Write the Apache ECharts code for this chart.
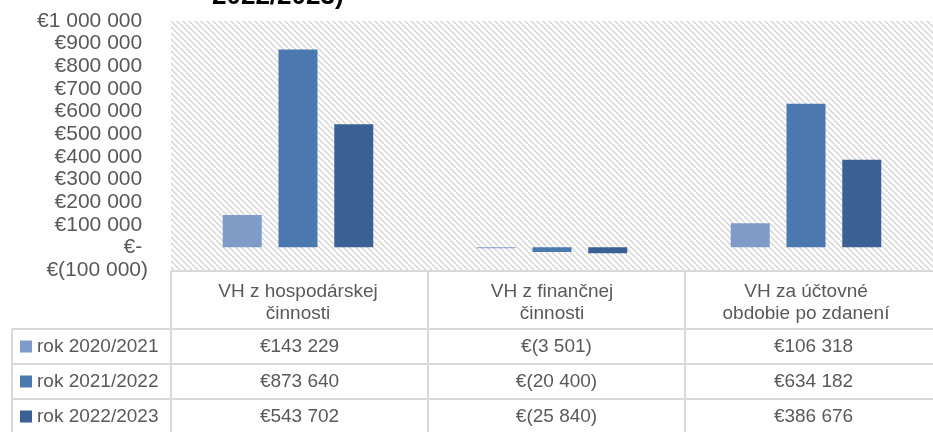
<!DOCTYPE html>
<html>
<head>
<meta charset="utf-8">
<script src="https://cdn.jsdelivr.net/npm/echarts@6/dist/echarts.min.js"></script>
<style>
  html, body { margin: 0; padding: 0; background: #fff; }
  #main { width: 933px; height: 432px; }
</style>
</head>
<body>
<div id="main"></div>
<script>
// data
var categories = ['VH z hospodárskej\nčinnosti', 'VH z finančnej\nčinnosti', 'VH za účtovné\nobdobie po zdanení'];
var seriesNames = ['rok 2020/2021', 'rok 2021/2022', 'rok 2022/2023'];
var rok2021 = [143229, -3501, 106318];
var rok2122 = [873640, -20400, 634182];
var rok2223 = [543702, -25840, 386676];
var yTicks = [-100000, 0, 100000, 200000, 300000, 400000, 500000, 600000, 700000, 800000, 900000, 1000000];
var titleTail = '2022/2023)';

var seriesData = [rok2021, rok2122, rok2223];
var colors = ['#7f9bc8', '#4a78af', '#3b6194'];
var textColor = '#595959';
var lineColor = '#d9d9d9';
var font = 'Liberation Sans, Arial, sans-serif';

// layout
var gLeft = 171, gTop = 21, gWidth = 771, gHeight = 249;
var tableTop = gTop + gHeight;          // 270
var headerH = 59;
var rowH = 35;
var legendLeft = 12;
var colW = gWidth / categories.length;

function fmtNum(v) {
    return String(Math.abs(v)).replace(/\B(?=(\d{3})+(?!\d))/g, ' ');
}
function fmtEuro(v) {
    if (v === 0) return '€- ';
    if (v < 0) return '€(' + fmtNum(v) + ')';
    return '€' + fmtNum(v) + ' ';
}
function fmtCell(v) {
    if (v < 0) return '€(' + fmtNum(v) + ')';
    return '€' + fmtNum(v);
}

// hatch background
var tile = document.createElement('canvas');
tile.width = 6; tile.height = 6;
var ctx = tile.getContext('2d');
ctx.fillStyle = '#ffffff';
ctx.fillRect(0, 0, 6, 6);
ctx.strokeStyle = '#d2d2d2';
ctx.lineWidth = 1.3;
[-6, 0, 6].forEach(function (o) {
    ctx.beginPath();
    ctx.moveTo(o, 0);
    ctx.lineTo(o + 6, 6);
    ctx.stroke();
});

// table graphics
var graphic = [];
graphic.push({
    type: 'text', left: 212, top: -16, z: 10,
    style: { text: titleTail, fill: '#000', font: 'bold 26px ' + font }
});
var tableBottom = tableTop + headerH + rowH * seriesNames.length;
var lineStyle = { stroke: lineColor, lineWidth: 2 };
// horizontal lines
graphic.push({ type: 'line', shape: { x1: gLeft, y1: tableTop + 1, x2: gLeft + gWidth, y2: tableTop + 1 }, style: lineStyle });
for (var r = 0; r <= seriesNames.length; r++) {
    var y = tableTop + headerH + r * rowH;
    graphic.push({ type: 'line', shape: { x1: legendLeft, y1: y, x2: gLeft + gWidth, y2: y }, style: lineStyle });
}
// vertical lines
graphic.push({ type: 'line', shape: { x1: legendLeft, y1: tableTop + headerH, x2: legendLeft, y2: tableBottom }, style: lineStyle });
for (var c = 0; c <= categories.length; c++) {
    var x = gLeft + c * colW;
    graphic.push({ type: 'line', shape: { x1: x, y1: tableTop, x2: x, y2: tableBottom }, style: lineStyle });
}
// rows
seriesNames.forEach(function (name, i) {
    var cy = tableTop + headerH + i * rowH + rowH / 2;
    graphic.push({ type: 'rect', shape: { x: 20, y: cy - 6, width: 12, height: 12 }, style: { fill: colors[i] } });
    graphic.push({
        type: 'text', x: 37, y: cy,
        style: { text: name, fill: textColor, font: '19px ' + font, verticalAlign: 'middle', align: 'left' }
    });
    seriesData[i].forEach(function (v, j) {
        graphic.push({
            type: 'text', x: gLeft + colW * (j + 0.5), y: cy,
            style: { text: fmtCell(v), fill: textColor, font: '19px ' + font, verticalAlign: 'middle', align: 'center' }
        });
    });
});

var chart = echarts.init(document.getElementById('main'), null, { renderer: 'canvas' });
var option = {
    animation: false,
    backgroundColor: '#fff',
    grid: {
        left: gLeft, top: gTop, width: gWidth, height: gHeight,
        show: true, borderWidth: 0,
        backgroundColor: { image: tile, repeat: 'repeat' }
    },
    xAxis: {
        type: 'category',
        data: categories,
        position: 'bottom',
        axisLine: { show: false, onZero: false },
        axisTick: { show: false },
        splitLine: { show: false },
        axisLabel: {
            interval: 0, margin: 11,
            color: textColor, fontFamily: font, fontSize: 19, lineHeight: 22
        }
    },
    yAxis: {
        type: 'value',
        min: yTicks[0], max: yTicks[yTicks.length - 1], interval: 100000,
        axisLine: { show: false },
        axisTick: { show: false },
        splitLine: { show: false },
        axisLabel: {
            margin: 23, color: textColor, fontFamily: font, fontSize: 21,
            formatter: function (v) { return fmtEuro(v); }
        }
    },
    series: seriesNames.map(function (name, i) {
        return {
            name: name, type: 'bar', data: seriesData[i],
            barWidth: 39, barGap: '43%',
            itemStyle: { color: colors[i] }
        };
    }),
    graphic: graphic
};
chart.setOption(option);
</script>
</body>
</html>
